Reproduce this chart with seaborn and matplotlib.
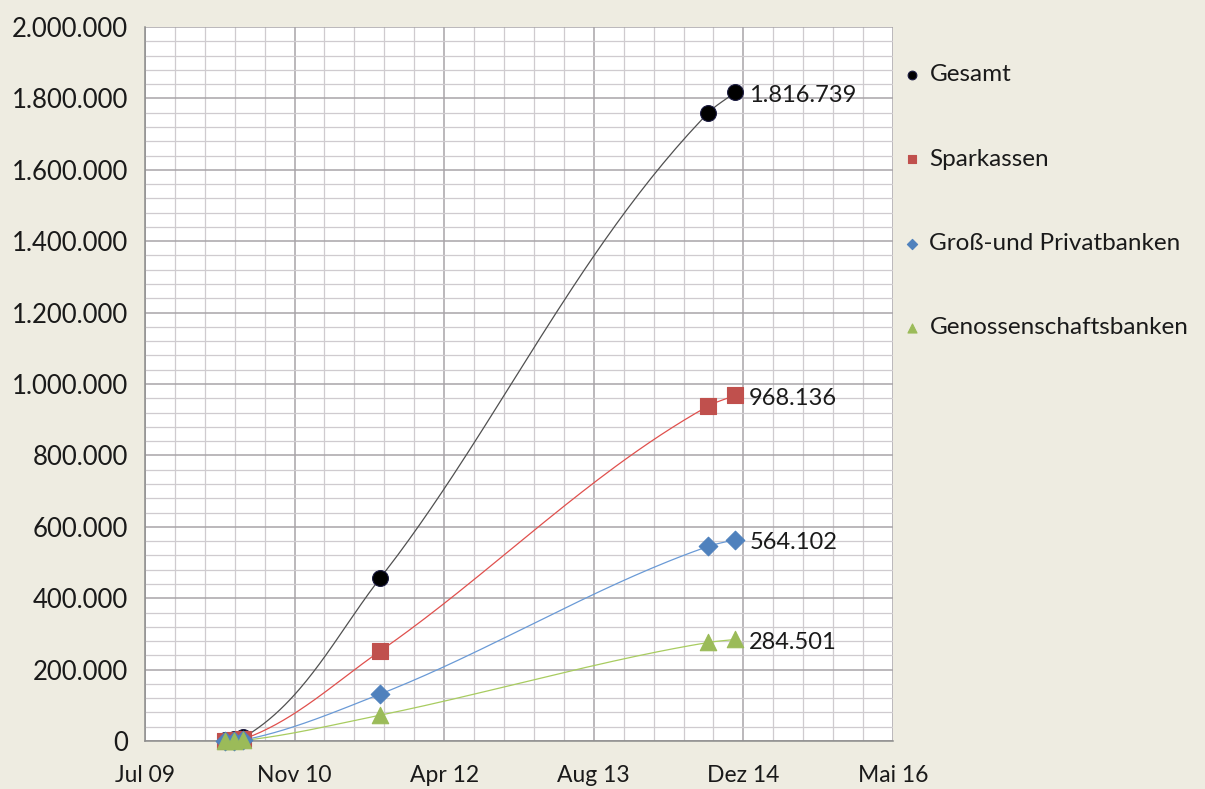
import numpy as np
import pandas as pd
import seaborn as sns
import matplotlib.pyplot as plt
from matplotlib.ticker import FuncFormatter, MultipleLocator

# data (stock per date)
dates = ['2010-03-31', '2010-04-30', '2010-05-31', '2011-08-31', '2014-08-31', '2014-11-30']
gesamt = [1500, 5000, 10000, 456000, 1759000, 1816739]
sparkassen = [800, 2700, 5400, 252000, 938000, 968136]
privatbanken = [400, 1400, 2900, 131500, 545000, 564102]
genossen = [300, 900, 1700, 72500, 276000, 284501]

series_names = ['Gesamt', 'Sparkassen', 'Groß-und Privatbanken', 'Genossenschaftsbanken']
series_values = [gesamt, sparkassen, privatbanken, genossen]
marker_colors = ['#000000', '#C0504D', '#4F81BD', '#9BBB59']
line_colors = ['#505050', '#E0504D', '#6A9AD6', '#A8CC60']
markers = ['o', 's', 'D', '^']
marker_sizes = [130, 120, 90, 140]

xtick_labels = ['Jul 09', 'Nov 10', 'Apr 12', 'Aug 13', 'Dez 14', 'Mai 16']

XMIN, XMAX, YMAX = 40000, 42500, 2000000

# excel style date serials
base = pd.Timestamp('1899-12-30')
xs = np.array([(pd.Timestamp(d) - base).days for d in dates], dtype=float)


def smooth_curve(x, y, sx, sy, n=60):
    # smoothed line like excel: bezier segments, done in screen units
    p = np.column_stack([(x - XMIN) * sx, y * sy])
    k = len(p)
    tang = np.zeros_like(p)
    for i in range(k):
        if i == 0:
            d = p[1] - p[0]
        elif i == k - 1:
            d = p[-1] - p[-2]
        else:
            tp = np.sqrt(np.linalg.norm(p[i] - p[i - 1])) + 1e-9
            tn = np.sqrt(np.linalg.norm(p[i + 1] - p[i])) + 1e-9
            d = (p[i] - p[i - 1]) / tp - (p[i + 1] - p[i - 1]) / (tp + tn) + (p[i + 1] - p[i]) / tn
        tang[i] = d / (np.linalg.norm(d) + 1e-12)
    t = np.linspace(0, 1, n)[:, None]
    pts = []
    for i in range(k - 1):
        L = np.linalg.norm(p[i + 1] - p[i]) / 3
        c1 = p[i] + tang[i] * L
        c2 = p[i + 1] - tang[i + 1] * L
        b = (1 - t) ** 3 * p[i] + 3 * (1 - t) ** 2 * t * c1 + 3 * (1 - t) * t ** 2 * c2 + t ** 3 * p[i + 1]
        pts.append(b)
    pts = np.vstack(pts)
    return pts[:, 0] / sx + XMIN, pts[:, 1] / sy


sns.set_style('white')
plt.rcParams['font.family'] = ['Lato', 'DejaVu Sans']

bg = '#EEECE1'
fig = plt.figure(figsize=(12.05, 7.89), dpi=100, facecolor=bg)
ax = fig.add_axes([0.1203, 0.0608, 0.6208, 0.905])
ax.set_facecolor('white')

# pixel scale of the plot area
sx = 748 / (XMAX - XMIN)
sy = 714 / YMAX

for name, vals, lc, mc, mk, ms in zip(series_names, series_values, line_colors,
                                      marker_colors, markers, marker_sizes):
    vals = np.array(vals, dtype=float)
    cx, cy = smooth_curve(xs, vals, sx, sy)
    ax.plot(cx, cy, color=lc, lw=0.9, zorder=3)
    df = pd.DataFrame({'x': xs, 'y': vals})
    sns.scatterplot(data=df, x='x', y='y', ax=ax, color=mc, marker=mk, s=ms,
                    edgecolor=mc if name != 'Gesamt' else '#1A1A40', linewidth=0.8,
                    label=name, zorder=4, clip_on=False)
    ax.annotate(f'{int(vals[-1]):,}'.replace(',', '.'), (xs[-1], vals[-1]),
                xytext=(10, -2), textcoords='offset points', va='center', ha='left',
                fontsize=17, color='#1A1A1A', zorder=5)

ax.set_xlim(XMIN, XMAX)
ax.set_ylim(0, YMAX)
ax.xaxis.set_minor_locator(MultipleLocator(100))
ax.yaxis.set_major_locator(MultipleLocator(200000))
ax.yaxis.set_minor_locator(MultipleLocator(40000))
ax.set_xticks(np.arange(XMIN, XMAX + 1, 500))
ax.set_xticklabels(xtick_labels)
ax.yaxis.set_major_formatter(FuncFormatter(lambda v, p: f'{int(v):,}'.replace(',', '.')))

ax.grid(which='major', color='#A8A4A8', lw=1.1, zorder=0)
ax.grid(which='minor', color='#CFCBCF', lw=0.9, zorder=0)
ax.set_axisbelow(True)

for s in ['top', 'right']:
    ax.spines[s].set_visible(False)
for s in ['left', 'bottom']:
    ax.spines[s].set_color('#8C8C8C')
    ax.spines[s].set_linewidth(1.1)

ax.tick_params(axis='both', which='major', length=8, width=1, color='#8C8C8C',
               labelcolor='#1A1A1A', direction='out', pad=4)
ax.tick_params(axis='x', which='major', labelsize=16.5, pad=9)
ax.tick_params(axis='y', which='major', labelsize=18.5)
ax.tick_params(axis='both', which='minor', length=0)
ax.set_xlabel('')
ax.set_ylabel('')

leg = ax.legend(loc='upper left', bbox_to_anchor=(0.729, 0.946), bbox_transform=fig.transFigure,
                frameon=False, fontsize=17.5, markerscale=0.55, handletextpad=0.2,
                labelspacing=2.6, handlelength=1.0)
for t in leg.get_texts():
    t.set_color('#1A1A1A')

fig.savefig('out.png', dpi=100, facecolor=bg)
